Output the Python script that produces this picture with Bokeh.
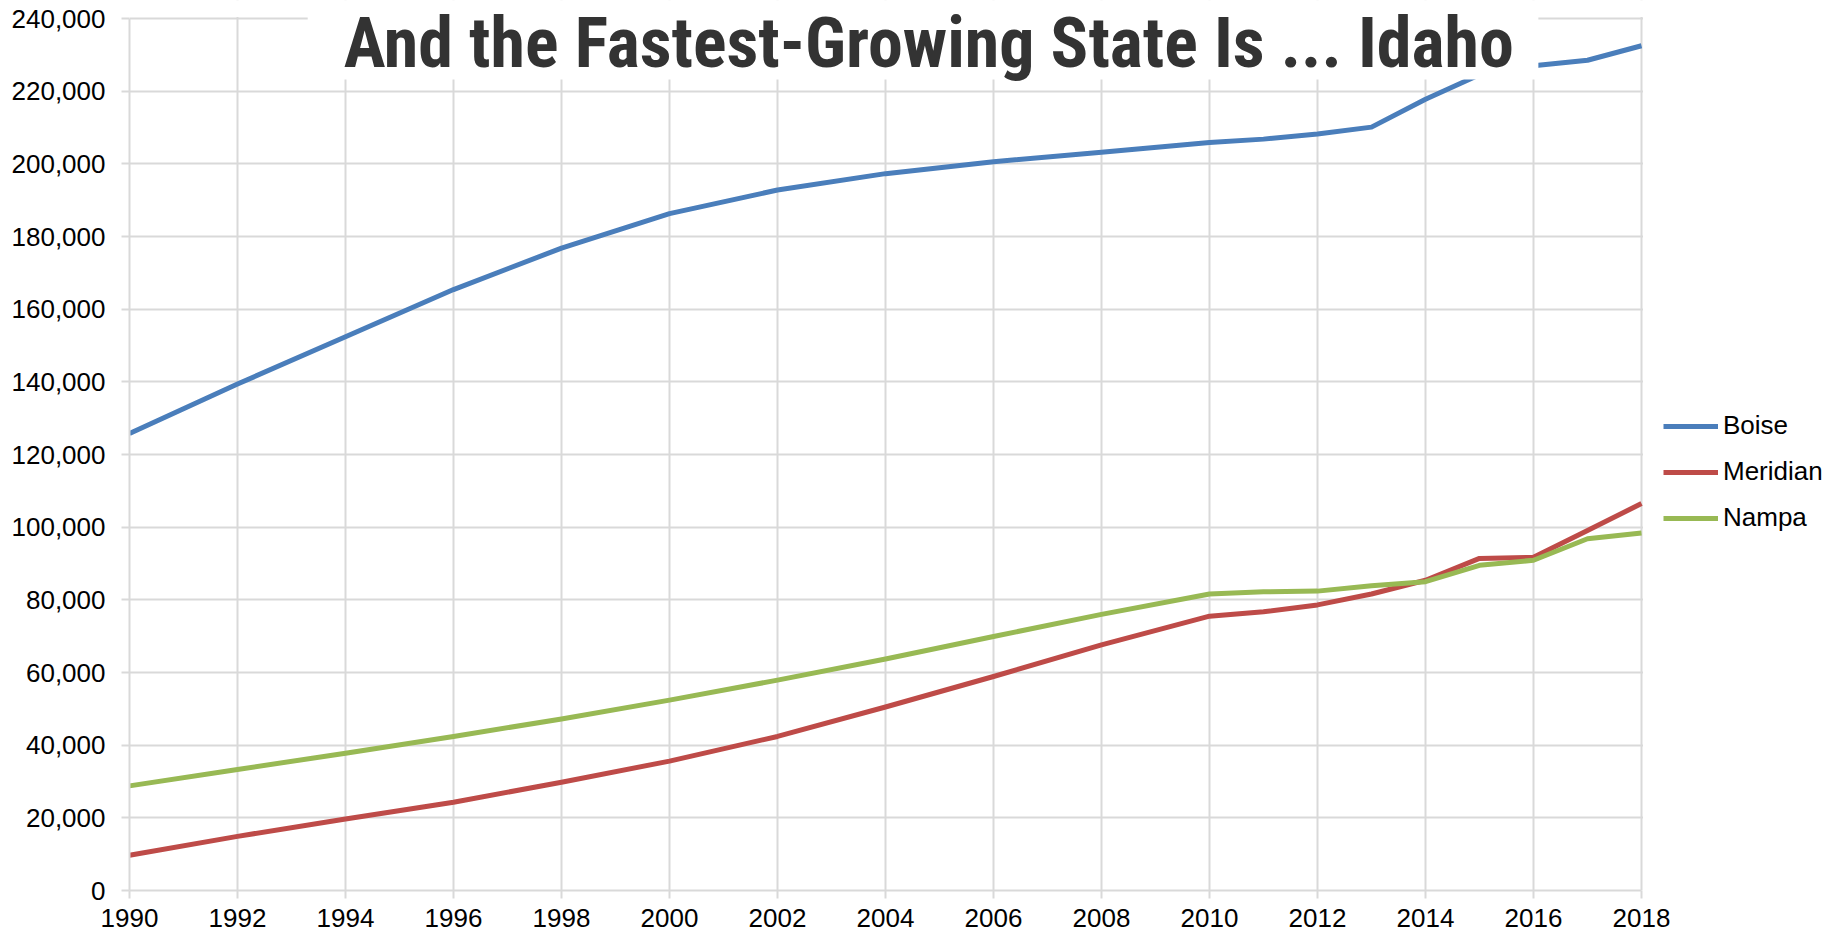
from bokeh.plotting import figure
from bokeh.models import (Range1d, FixedTicker, NumeralTickFormatter, Legend, LegendItem,
                          BoxAnnotation, Label)
from bokeh.embed import file_html
from bokeh.resources import INLINE

years = [1990, 1992, 1994, 1996, 1998, 2000, 2002, 2004, 2006, 2008,
         2010, 2011, 2012, 2013, 2014, 2015, 2016, 2017, 2018]
boise = [125800, 139400, 152400, 165400, 176800, 186300, 192800, 197300, 200600, 203200,
         205900, 206800, 208200, 210100, 217800, 224500, 227000, 228500, 232500]
meridian = [9700, 14900, 19700, 24300, 29800, 35600, 42400, 50500, 58900, 67600,
            75500, 76700, 78600, 81600, 85400, 91400, 91700, 99100, 106500]
nampa = [28800, 33300, 37800, 42400, 47200, 52400, 57900, 63700, 69900, 76000,
         81600, 82200, 82400, 83900, 85000, 89500, 90900, 96800, 98400]
series_names = ["Boise", "Meridian", "Nampa"]
colors = ["#4A7EBB", "#BE4B48", "#98B954"]
x_ticks = list(range(1990, 2019, 2))
y_ticks = list(range(0, 240001, 20000))
title_text = "And the Fastest-Growing State Is ... Idaho"

GRID = "#d9d9d9"
FONT = "Liberation Sans"

W, H = 1838, 935
LEFT, BOTTOM = 129, 45
X0, X1 = x_ticks[0], x_ticks[-1]
Y0, Y1 = y_ticks[0], y_ticks[-1]
px_x = (1641 - LEFT) / (X1 - X0)          # pixels per year
px_y = (890 - 18) / (Y1 - Y0)             # pixels per person
x_end = X0 + (W - LEFT) / px_x
y_end = Y0 + (H - BOTTOM) / px_y

p = figure(width=W, height=H, output_backend="svg", toolbar_location=None,
           x_range=Range1d(X0, x_end), y_range=Range1d(Y0, y_end),
           min_border_left=LEFT, min_border_top=0, min_border_right=0,
           min_border_bottom=BOTTOM)
p.outline_line_color = None
p.background_fill_color = "white"
p.border_fill_color = "white"

for ax, ticks in ((p.xaxis[0], x_ticks), (p.yaxis[0], y_ticks)):
    ax.ticker = FixedTicker(ticks=ticks)
    ax.bounds = (ticks[0], ticks[-1])
    ax.axis_line_color = GRID
    ax.axis_line_width = 2
    ax.major_tick_line_color = GRID
    ax.major_tick_line_width = 2
    ax.major_tick_out = 8
    ax.major_tick_in = 0
    ax.minor_tick_line_color = None
    ax.major_label_text_font = FONT
    ax.major_label_text_font_size = "26px"
    ax.major_label_text_color = "black"

p.yaxis[0].formatter = NumeralTickFormatter(format="0,0")
p.yaxis[0].major_label_standoff = 16
p.xaxis[0].major_label_standoff = 10

p.xgrid[0].ticker = FixedTicker(ticks=x_ticks)
p.ygrid[0].ticker = FixedTicker(ticks=y_ticks)
for g in (p.xgrid[0], p.ygrid[0]):
    g.grid_line_color = GRID
    g.grid_line_width = 2

renderers = []
for name, vals, c in zip(series_names, [boise, meridian, nampa], colors):
    r = p.line(years, vals, line_color=c, line_width=5, line_join="round")
    renderers.append((name, r))

# white masks: above the 240,000 line, right of 2018, and behind the title
mask_top = BoxAnnotation(bottom=Y1 + 1.5 / px_y, fill_color="white", fill_alpha=1.0,
                         line_color=None, level="annotation")
mask_right = BoxAnnotation(left=X1 + 1.5 / px_x, fill_color="white", fill_alpha=1.0,
                           line_color=None, level="annotation")
title_box = BoxAnnotation(left=1993.3, right=2016.09, bottom=223200, fill_color="white",
                          fill_alpha=1.0, line_color=None, level="annotation")
for b in (mask_top, mask_right, title_box):
    p.add_layout(b)

legend = Legend(items=[LegendItem(label=n, renderers=[r]) for n, r in renderers],
                location=(1534, 357), orientation="vertical",
                glyph_width=55, glyph_height=30, label_height=30, label_standoff=5,
                spacing=15, padding=0, margin=0,
                border_line_color=None, background_fill_alpha=0,
                label_text_font=FONT, label_text_font_size="26px", label_text_color="black")
p.add_layout(legend, "center")

title = Label(x=2004.8, y=233340, text=title_text, text_align="center",
              text_baseline="alphabetic", text_font="Roboto Condensed",
              text_font_style="bold", text_font_size="70px", text_color="#333333",
              level="annotation")
p.add_layout(title)

open("out.html", "w").write(file_html(p, INLINE))
